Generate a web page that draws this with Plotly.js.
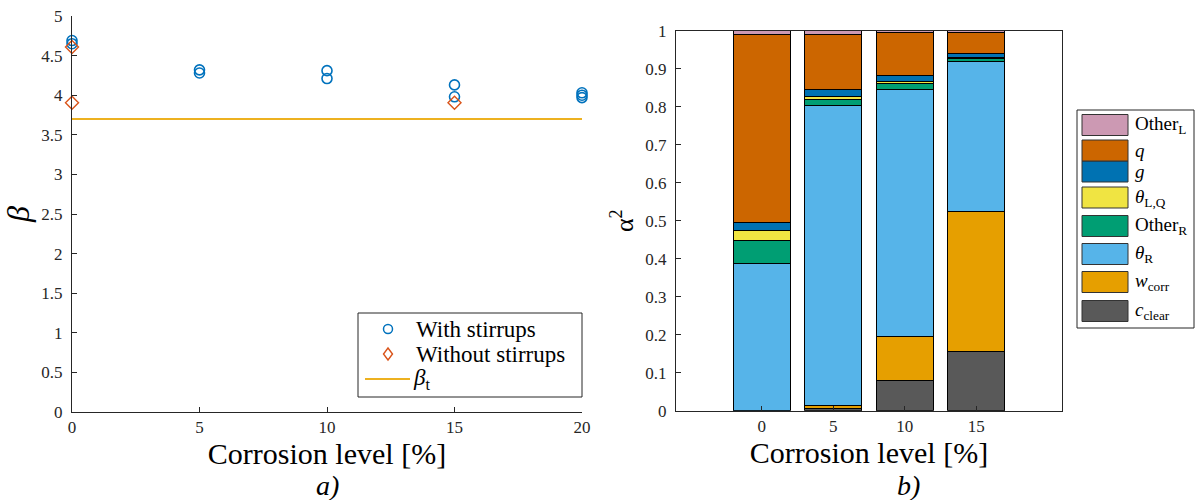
<!DOCTYPE html>
<html><head><meta charset="utf-8">
<script src="https://cdn.plot.ly/plotly-3.0.1.min.js"></script>
<style>body{margin:0;background:#fff}#chart{width:1195px;height:500px}</style>
</head><body><div id="chart"></div>
<script>
// ---- Left panel data (reliability index) ----
const withX = [0, 0, 5, 5, 10, 10, 15, 15, 20, 20, 20];
const withY = [4.69, 4.65, 4.32, 4.28, 4.31, 4.21, 4.13, 3.98, 4.03, 4.00, 3.97];
const withoutX = [0, 0, 15];
const withoutY = [4.61, 3.905, 3.905];
const betaTargetX = [0, 20];
const betaTargetY = [3.7, 3.7];
const leftNames = ["With stirrups", "Without stirrups", "<i>β</i><sub>t</sub>"];
const leftColors = ["#0072BD", "#D95319", "#EDB120"];

// ---- Right panel data (alpha^2 contributions, stacked bottom -> top) ----
const corrosionLevels = [0, 5, 10, 15];
const compNames = ["<i>c</i><sub>clear</sub>", "<i>w</i><sub>corr</sub>", "<i>θ</i><sub>R</sub>", "Other<sub>R</sub>",
                   "<i>θ</i><sub>L,Q</sub>", "<i>g</i>", "<i>q</i>", "Other<sub>L</sub>"];
const compColors = ["#595959", "#E69F00", "#56B4E9", "#009E73", "#F0E442", "#0072B2", "#CC6600", "#CC99B3"];
const cClear  = [0.000, 0.007, 0.080, 0.155];
const wCorr   = [0.000, 0.006, 0.115, 0.370];
const thetaR  = [0.387, 0.789, 0.651, 0.394];
const otherR  = [0.060, 0.018, 0.016, 0.007];
const thetaLQ = [0.027, 0.007, 0.004, 0.003];
const gLoad   = [0.021, 0.017, 0.017, 0.012];
const qLoad   = [0.496, 0.147, 0.111, 0.053];
const otherL  = [0.009, 0.009, 0.006, 0.006];
const compValues = [cClear, wCorr, thetaR, otherR, thetaLQ, gLoad, qLoad, otherL];

const serif = "Liberation Serif";
const axisCol = "#262626";
const W = 1195, H = 500;
const px = v => v / W, py = v => 1 - v / H;

const traces = [
  {x: withX, y: withY, type: "scatter", mode: "markers", name: leftNames[0],
   marker: {symbol: "circle-open", size: 10, color: leftColors[0], line: {width: 1.6}},
   xaxis: "x", yaxis: "y", cliponaxis: false, showlegend: false},
  {x: withoutX, y: withoutY, type: "scatter", mode: "markers", name: leftNames[1],
   marker: {symbol: "diamond-open", size: 10, color: leftColors[1], line: {width: 1.4}},
   xaxis: "x", yaxis: "y", cliponaxis: false, showlegend: false},
  {x: betaTargetX, y: betaTargetY, type: "scatter", mode: "lines", name: leftNames[2],
   line: {color: leftColors[2], width: 2}, xaxis: "x", yaxis: "y", showlegend: false}
];
compValues.forEach((vals, i) => {
  traces.push({x: corrosionLevels, y: vals, type: "bar", name: compNames[i], width: 4,
    marker: {color: compColors[i], line: {color: "#000", width: 1}},
    xaxis: "x2", yaxis: "y2", showlegend: false});
});

const shapes = [];
const annotations = [];

// left legend (box, symbols, labels)
shapes.push({type: "rect", xref: "paper", yref: "paper", x0: px(358), x1: px(582), y0: py(397), y1: py(313),
  line: {color: axisCol, width: 1}, fillcolor: "#fff"});
shapes.push({type: "circle", xref: "paper", yref: "paper", x0: px(383.5), x1: px(392.5), y0: py(333.5), y1: py(324.5),
  line: {color: leftColors[0], width: 1.5}});
shapes.push({type: "path", xref: "paper", yref: "paper",
  path: `M ${px(388)} ${py(348)} L ${px(392.5)} ${py(354)} L ${px(388)} ${py(360)} L ${px(383.5)} ${py(354)} Z`,
  line: {color: leftColors[1], width: 1.4}});
shapes.push({type: "line", xref: "paper", yref: "paper", x0: px(365), x1: px(410), y0: py(379), y1: py(379),
  line: {color: leftColors[2], width: 2}});
[329, 354, 379].forEach((yc, i) => {
  annotations.push({xref: "paper", yref: "paper", x: px(i === 2 ? 411 : 414), y: py(yc), xanchor: "left", yanchor: "middle",
    text: leftNames[i], showarrow: false, font: {family: serif, size: 23, color: "#000"}});
});

// right legend (patches + labels), built from the arrays
shapes.push({type: "rect", xref: "paper", yref: "paper",
  x0: px(1077), x1: px(1194), y0: py(328), y1: py(110),
  line: {color: axisCol, width: 1}, fillcolor: "rgba(0,0,0,0)"});
const legY = [311, 282, 254, 226, 197.5, 171.5, 150.5, 125]; // bottom->top order matches compNames
compNames.forEach((nm, i) => {
  const yc = legY[i];
  shapes.push({type: "rect", xref: "paper", yref: "paper",
    x0: px(1082), x1: px(1128), y0: py(yc + 10.5), y1: py(yc - 10.5),
    fillcolor: compColors[i], line: {color: "#333", width: 1}});
  annotations.push({xref: "paper", yref: "paper", x: px(1133), y: py(yc),
    xanchor: "left", yanchor: "middle", text: nm, showarrow: false,
    font: {family: serif, size: 19, color: "#000"}});
});
annotations.push({xref: "paper", yref: "paper", x: px(327), y: py(485), text: "<i>a)</i>",
  showarrow: false, xanchor: "center", yanchor: "middle", font: {family: serif, size: 28, color: "#000"}});
annotations.push({xref: "paper", yref: "paper", x: px(908), y: py(485), text: "<i>b)</i>",
  showarrow: false, xanchor: "center", yanchor: "middle", font: {family: serif, size: 28, color: "#000"}});

const tickFont = {family: serif, size: 17, color: "#262626"};
const layout = {
  width: W, height: H,
  margin: {l: 0, r: 0, t: 0, b: 0},
  paper_bgcolor: "#fff", plot_bgcolor: "#fff",
  font: {family: serif},
  barmode: "stack",
  showlegend: false,
  xaxis: {domain: [px(72), px(582)], range: [0, 20], tickvals: [0, 5, 10, 15, 20],
    showline: true, linecolor: axisCol, linewidth: 1, ticks: "inside", ticklen: 5, tickcolor: axisCol,
    showgrid: false, zeroline: false, tickfont: tickFont, anchor: "y",
    title: {text: "Corrosion level [%]", font: {family: serif, size: 30, color: "#000"}, standoff: 4}},
  yaxis: {domain: [py(412), py(16)], range: [0, 5], dtick: 0.5,
    showline: true, linecolor: axisCol, linewidth: 1, ticks: "inside", ticklen: 5, tickcolor: axisCol,
    showgrid: false, zeroline: false, tickfont: tickFont, anchor: "x", ticklabelstandoff: 5,
    title: {text: "<i>β</i>", font: {family: serif, size: 32, color: "#000"}, standoff: 8}},
  xaxis2: {domain: [px(676), px(1062)], range: [-6, 21], tickvals: corrosionLevels,
    showline: true, mirror: true, linecolor: axisCol, linewidth: 1, ticks: "inside", ticklen: 5, tickcolor: axisCol,
    showgrid: false, zeroline: false, tickfont: tickFont, anchor: "y2",
    title: {text: "Corrosion level [%]", font: {family: serif, size: 30, color: "#000"}, standoff: 4}},
  yaxis2: {domain: [py(410.7), py(30.7)], range: [0, 1], dtick: 0.1,
    showline: true, mirror: true, linecolor: axisCol, linewidth: 1, ticks: "inside", ticklen: 5, tickcolor: axisCol,
    showgrid: false, zeroline: false, tickfont: tickFont, anchor: "x2", ticklabelstandoff: 5,
    title: {text: "α<sup>2</sup>", font: {family: serif, size: 26, color: "#000"}, standoff: 4}},
  shapes: shapes,
  annotations: annotations
};
Plotly.newPlot("chart", traces, layout, {displayModeBar: false, responsive: false});
</script></body></html>
